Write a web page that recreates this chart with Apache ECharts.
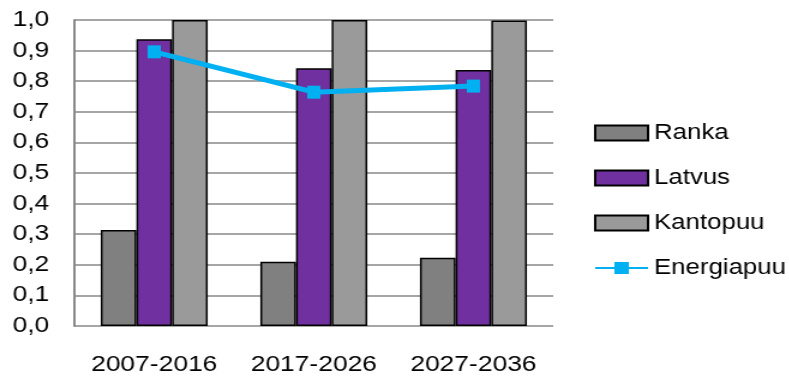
<!DOCTYPE html>
<html>
<head>
<meta charset="utf-8">
<script src="https://cdn.jsdelivr.net/npm/echarts@6/dist/echarts.min.js"></script>
<style>
  html, body { margin: 0; padding: 0; background: #fff; overflow: hidden; }
  /* the reference picture is stretched sideways, so the chart is drawn narrower and widened */
  #chart { width: 657px; height: 377px; transform: scale(1.2, 1); transform-origin: 0 0; }
</style>
</head>
<body>
<div id="chart"></div>
<script>
var categories = ['2007-2016', '2017-2026', '2027-2036'];
var ranka = [0.314, 0.21, 0.223];
var latvus = [0.937, 0.842, 0.837];
var kantopuu = [1.0, 1.0, 0.998];
var energiapuu = [0.896, 0.764, 0.784];
var yTickLabels = ['0,0', '0,1', '0,2', '0,3', '0,4', '0,5', '0,6', '0,7', '0,8', '0,9', '1,0'];

var chart = echarts.init(document.getElementById('chart'));
var font = 'Liberation Sans, Arial, sans-serif';

var option = {
  animation: false,
  textStyle: { fontFamily: font },
  grid: { left: 62, right: 196, top: 20, bottom: 51, containLabel: false },
  legend: {
    orient: 'vertical',
    left: 495,
    top: 122,
    padding: 0,
    itemWidth: 44,
    itemHeight: 15,
    itemGap: 23,
    textStyle: { fontSize: 21.5, color: '#000', fontFamily: font },
    data: [
      { name: 'Ranka', icon: 'rect' },
      { name: 'Latvus', icon: 'rect' },
      { name: 'Kantopuu', icon: 'rect' },
      { name: 'Energiapuu' }
    ]
  },
  xAxis: {
    type: 'category',
    data: categories,
    axisLine: { show: false },
    axisTick: { show: false },
    axisLabel: { interval: 0, fontSize: 22, color: '#000', margin: 28, fontFamily: font }
  },
  yAxis: {
    type: 'value',
    min: 0,
    max: 1,
    interval: 0.1,
    axisLine: { show: true, lineStyle: { color: '#888', width: 2 } },
    axisTick: { show: false },
    axisLabel: {
      fontSize: 22, color: '#000', margin: 21, fontFamily: font,
      formatter: function (v) { return yTickLabels[Math.round(v * 10)]; }
    },
    splitLine: { lineStyle: { color: '#a6a6a6', width: 2 } }
  },
  series: [
    {
      name: 'Ranka', type: 'bar', data: ranka,
      barGap: '0%', barCategoryGap: '33%',
      itemStyle: { color: '#808080', borderColor: '#000', borderWidth: 1.5 }
    },
    {
      name: 'Latvus', type: 'bar', data: latvus,
      itemStyle: { color: '#7030a0', borderColor: '#000', borderWidth: 1.5 }
    },
    {
      name: 'Kantopuu', type: 'bar', data: kantopuu,
      itemStyle: { color: '#9a9a9a', borderColor: '#000', borderWidth: 1.5 }
    },
    {
      name: 'Energiapuu', type: 'line', data: energiapuu,
      symbol: 'rect', symbolSize: [11, 13],
      lineStyle: { color: '#00b0f0', width: 5 },
      itemStyle: { color: '#00b0f0' }
    }
  ]
};

chart.setOption(option);
</script>
</body>
</html>
